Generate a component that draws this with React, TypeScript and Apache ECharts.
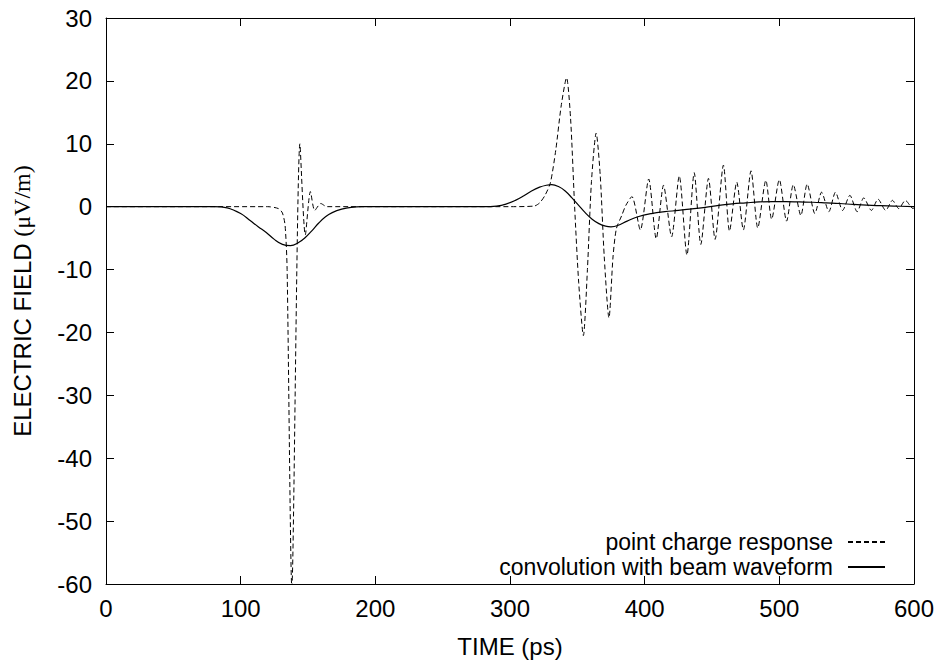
import React, { useEffect, useRef } from "react";
import * as echarts from "echarts";

// point charge response (dashed)
const chargeT = [0, 120, 128, 131, 133, 134.5, 138, 144, 148, 151.8, 155, 159.5, 164, 300, 318, 322, 326, 330, 334, 338, 342, 345, 348, 351, 354.5, 357.5, 360.5, 364, 367, 370, 373.5, 376.5, 379, 383, 386, 390.5, 396.8, 403, 408.6, 414, 420, 425.7, 431.4, 436.8, 441.7, 447.4, 452.3, 458.5, 463, 468.4, 473.3, 479, 484, 490, 494.3, 500, 505.4, 510.4, 516, 520.7, 526.4, 531.4, 536.8, 541.7, 547, 552.4, 557.8, 562.7, 568.4, 573.3, 579, 584, 588.7, 593.6, 599.3, 600];
const chargeV = [0, 0, -0.3, -1, -3, -10, -60.5, 10, -4.5, 2.4, -0.6, 0.5, 0, 0, 0.1, 0.6, 1.8, 3.8, 9, 16, 20.5, 14, 0, -12, -20.5, -10, 4, 11.7, 5, -8, -17.7, -8, -3.5, -1.4, 0.2, 1.6, -3.7, 4.4, -5.1, 3.4, -4.8, 4.9, -7.7, 5.4, -6, 4.5, -5.2, 6.6, -3.9, 3.9, -3.7, 5.7, -3.4, 4.2, -2, 4.3, -2.3, 3.5, -1.4, 3.6, -1.1, 2.3, -0.8, 2.3, -0.6, 1.8, -0.8, 1.4, -0.6, 1.2, -0.6, 1.0, -0.3, 1.0, -0.3, -0.2];

// convolution with beam waveform (solid)
const beamT = [0, 80, 90, 100, 107, 113, 119, 125, 131, 137, 143, 148, 153, 158, 163, 168, 175, 182, 190, 280, 290, 297, 304, 310, 316, 322, 327, 331, 336, 341, 346, 351, 356, 361, 366, 371, 375, 380, 387, 395, 405, 415, 425, 435, 445, 455, 465, 475, 485, 495, 505, 515, 525, 535, 545, 555, 565, 575, 585, 600];
const beamV = [0, 0, -0.2, -1.1, -2.2, -3.2, -4.1, -5.2, -6.0, -6.2, -5.7, -4.9, -3.8, -2.6, -1.6, -0.95, -0.4, -0.1, 0, 0, 0.1, 0.4, 1.0, 1.7, 2.5, 3.1, 3.4, 3.5, 3.2, 2.5, 1.4, 0.2, -1.0, -2.0, -2.7, -3.1, -3.2, -3.0, -2.3, -1.6, -1.1, -0.8, -0.6, -0.35, -0.1, 0.2, 0.45, 0.6, 0.75, 0.8, 0.8, 0.75, 0.7, 0.6, 0.5, 0.35, 0.25, 0.15, 0.1, 0];

const seriesNames = ["point charge response", "convolution with beam waveform"];
const xTicks = { min: 0, max: 600, interval: 100 };
const yTicks = { min: -60, max: 30, interval: 10 };

const FONT = "Liberation Sans, Arial, Helvetica, sans-serif";
const FS = 24;

export default function App() {
  const ref = useRef<HTMLDivElement>(null);
  useEffect(() => {
    if (!ref.current) return;
    const chart = echarts.init(ref.current, undefined, { renderer: "svg" });
    const axisLine = { show: true, onZero: false, lineStyle: { color: "#000", width: 1 } };
    const tick = { show: true, inside: true, length: 8, lineStyle: { color: "#000", width: 1 } };
    const label = { color: "#000", fontSize: FS, fontFamily: FONT };
    chart.setOption({
      animation: false,
      backgroundColor: "#fff",
      grid: { left: 106, right: 21, top: 18, bottom: 75, containLabel: false },
      legend: {
        orient: "vertical",
        right: 46,
        bottom: 79,
        align: "right",
        itemWidth: 37,
        itemHeight: 12,
        itemGap: 1,
        data: seriesNames,
        itemStyle: { opacity: 0 },
        textStyle: { color: "#000", fontSize: 23, fontFamily: FONT, lineHeight: 24, padding: [0, 10, 0, 0] },
      },
      xAxis: [
        {
          type: "value",
          ...xTicks,
          position: "bottom",
          name: "TIME (ps)",
          nameLocation: "middle",
          nameGap: 50,
          nameTextStyle: { color: "#000", fontSize: FS, fontFamily: FONT },
          axisLine,
          axisTick: tick,
          axisLabel: { ...label, margin: 12 },
          splitLine: { show: false },
        },
        {
          type: "value",
          ...xTicks,
          position: "top",
          axisLine,
          axisTick: tick,
          axisLabel: { show: false },
          splitLine: { show: false },
        },
      ],
      yAxis: [
        {
          type: "value",
          ...yTicks,
          position: "left",
          name: "{a|ELECTRIC FIELD }{b|(μV/m)}",
          nameLocation: "middle",
          nameGap: 72,
          nameTextStyle: {
            color: "#000",
            fontSize: FS,
            fontFamily: FONT,
            rich: {
              a: { color: "#000", fontSize: FS, fontFamily: FONT },
              b: { color: "#000", fontSize: FS, fontFamily: "Liberation Serif, Times New Roman, serif" },
            },
          },
          axisLine,
          axisTick: tick,
          axisLabel: { ...label, margin: 14 },
          splitLine: { show: false },
        },
        {
          type: "value",
          ...yTicks,
          position: "right",
          axisLine,
          axisTick: tick,
          axisLabel: { show: false },
          splitLine: { show: false },
        },
      ],
      series: [
        {
          name: seriesNames[0],
          type: "line",
          xAxisIndex: 0,
          yAxisIndex: 0,
          showSymbol: false,
          symbol: "none",
          smooth: 0.25,
          clip: true,
          data: chargeT.map((t, i) => [t, chargeV[i]]),
          lineStyle: { color: "#000", width: 1, type: [5, 3] },
          itemStyle: { color: "#000" },
        },
        {
          name: seriesNames[1],
          type: "line",
          xAxisIndex: 0,
          yAxisIndex: 0,
          showSymbol: false,
          symbol: "none",
          smooth: 0.4,
          clip: true,
          data: beamT.map((t, i) => [t, beamV[i]]),
          lineStyle: { color: "#000", width: 1.2, type: "solid" },
          itemStyle: { color: "#000" },
        },
      ],
    });
    return () => chart.dispose();
  }, []);
  return (
    <div
      ref={ref}
      style={{ position: "fixed", left: 0, top: 0, width: 937, height: 663, background: "#fff" }}
    />
  );
}
